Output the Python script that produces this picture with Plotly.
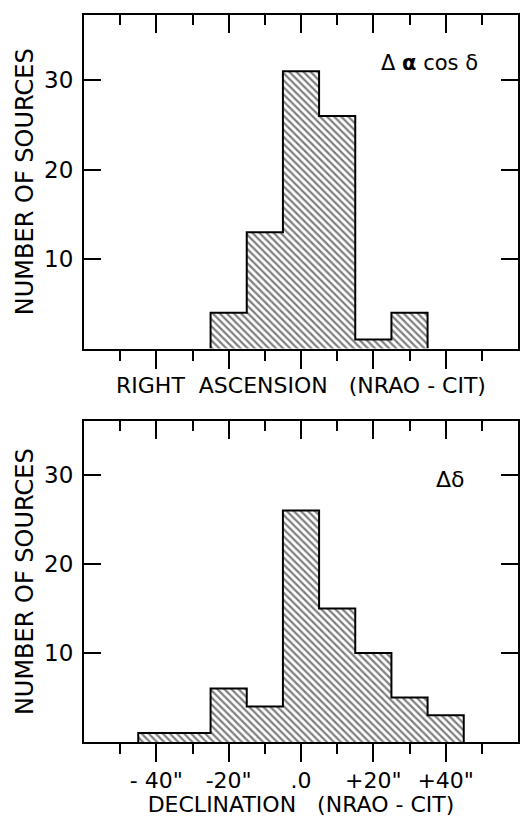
import plotly.graph_objects as go

# ---- data ----
bin_width = 10
ra_centers = [-20, -10, 0, 10, 20, 30]
ra_counts = [4, 13, 31, 26, 1, 4]
dec_centers = [-40, -30, -20, -10, 0, 10, 20, 30, 40]
dec_counts = [1, 1, 6, 4, 26, 15, 10, 5, 3]

major_ticks = [-40, -20, 0, 20, 40]
minor_ticks = [-50, -30, -10, 10, 30, 50]
dec_tick_text = ['- 40"', '-20"', '.0', '+20"', '+40"']
y_ticks = [10, 20, 30]

x_range = [-60, 60]
FONT = "DejaVu Sans"


def step_outline(centers, counts):
    edges = [c - bin_width / 2 for c in centers] + [centers[-1] + bin_width / 2]
    xs = [edges[0]] + edges[:-1] + [edges[-1]]
    ys = [0] + list(counts) + [0]
    return xs, ys


fig = go.Figure()

for centers, counts, xa, ya in [(ra_centers, ra_counts, "x", "y"),
                                (dec_centers, dec_counts, "x2", "y2")]:
    fig.add_trace(go.Bar(
        x=centers, y=counts, width=bin_width, xaxis=xa, yaxis=ya,
        marker=dict(color="white", line=dict(width=0),
                    pattern=dict(shape="\\", size=5, solidity=0.45,
                                 fgcolor="black", bgcolor="white")),
        showlegend=False, hoverinfo="skip"))
    sx, sy = step_outline(centers, counts)
    fig.add_trace(go.Scatter(
        x=sx, y=sy, mode="lines", line=dict(color="black", width=2, shape="hv"),
        xaxis=xa, yaxis=ya, showlegend=False, hoverinfo="skip"))

# invisible traces for the top (inside-tick) axes
fig.add_trace(go.Scatter(x=[0], y=[0], xaxis="x3", yaxis="y", mode="markers",
                         marker=dict(opacity=0), showlegend=False, hoverinfo="skip"))
fig.add_trace(go.Scatter(x=[0], y=[0], xaxis="x4", yaxis="y2", mode="markers",
                         marker=dict(opacity=0), showlegend=False, hoverinfo="skip"))

ytickfont = dict(family=FONT, size=23, color="black")
xtickfont = dict(family=FONT, size=22, color="black")
titlefont = dict(family=FONT, size=22, color="black")

bottom_x = dict(range=x_range, showgrid=False, zeroline=False,
                showline=True, linecolor="black", linewidth=2, mirror=True,
                ticks="outside", ticklen=18, tickwidth=2, tickcolor="black",
                tickvals=major_ticks,
                minor=dict(tickvals=minor_ticks, ticks="outside", ticklen=10,
                           tickwidth=2, tickcolor="black", showgrid=False),
                tickfont=xtickfont, fixedrange=True)
top_x = dict(range=x_range, showgrid=False, zeroline=False, showline=False,
             side="top", ticks="inside", ticklen=18, tickwidth=2, tickcolor="black",
             tickvals=major_ticks, showticklabels=False,
             minor=dict(tickvals=minor_ticks, ticks="inside", ticklen=10,
                        tickwidth=2, tickcolor="black", showgrid=False),
             fixedrange=True)
y_common = dict(showgrid=False, zeroline=False, showline=True, linecolor="black",
                linewidth=2, mirror="ticks", ticks="inside", ticklen=17, tickwidth=2,
                tickcolor="black", tickvals=y_ticks, tickfont=ytickfont,
                ticklabelstandoff=4, fixedrange=True,
                title=dict(text="NUMBER OF SOURCES",
                           font=dict(family=FONT, size=24, color="black"),
                           standoff=4))

fig.update_layout(
    width=521, height=817,
    margin=dict(l=84, r=1, t=15, b=74),
    plot_bgcolor="white", paper_bgcolor="white",
    bargap=0,
    xaxis=dict(bottom_x, anchor="y", showticklabels=False,
               title=dict(text="RIGHT  ASCENSION   (NRAO - CIT)", font=titlefont,
                          standoff=10)),
    yaxis=dict(y_common, domain=[0.5412, 1.0], range=[0, 37.3], anchor="x"),
    xaxis2=dict(bottom_x, anchor="y2", ticktext=dec_tick_text,
                title=dict(text="DECLINATION   (NRAO - CIT)", font=titlefont,
                           standoff=7)),
    yaxis2=dict(y_common, domain=[0.0, 0.4409], range=[0, 36.0], anchor="x2"),
    xaxis3=dict(top_x, overlaying="x", anchor="y"),
    xaxis4=dict(top_x, overlaying="x2", anchor="y2"),
    annotations=[
        dict(text="Δ <b>α</b> cos δ", xref="x domain", yref="y domain",
             x=0.795, y=0.856, xanchor="center", yanchor="middle",
             showarrow=False, font=dict(family=FONT, size=21, color="black")),
        dict(text="Δδ", xref="x2 domain", yref="y2 domain",
             x=0.845, y=0.819, xanchor="center", yanchor="middle",
             showarrow=False, font=dict(family=FONT, size=22, color="black")),
    ],
)

fig.write_html("out.html")
